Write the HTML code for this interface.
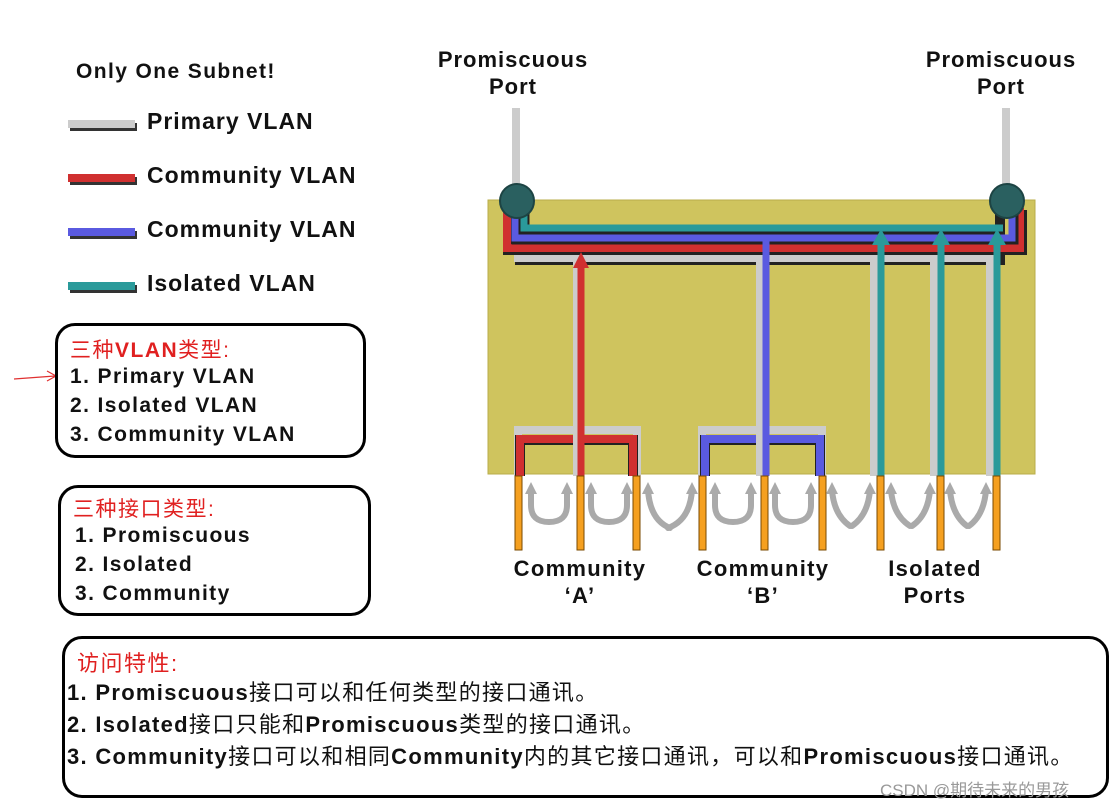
<!DOCTYPE html>
<html><head><meta charset="utf-8"><style>
body{margin:0;background:#fff;width:1120px;height:803px;overflow:hidden;font-family:"Liberation Sans","Noto Sans CJK SC",sans-serif;}
.t{position:absolute;font-weight:bold;color:#111;white-space:nowrap}
.box{position:absolute;border:3px solid #000;border-radius:20px;box-sizing:border-box}
</style></head><body>
<svg width="1120" height="803" style="position:absolute;left:0;top:0">
<g stroke-width="8">
<line x1="70" y1="127" x2="137" y2="127" stroke="#333"/><line x1="68" y1="124" x2="135" y2="124" stroke="#ccc"/>
<line x1="70" y1="181" x2="137" y2="181" stroke="#333"/><line x1="68" y1="178" x2="135" y2="178" stroke="#d03030"/>
<line x1="70" y1="235" x2="137" y2="235" stroke="#333"/><line x1="68" y1="232" x2="135" y2="232" stroke="#5a5ae0"/>
<line x1="70" y1="289" x2="137" y2="289" stroke="#333"/><line x1="68" y1="286" x2="135" y2="286" stroke="#2a9a9a"/>
</g>
<path d="M14 379 L55 376 M47 371 L56 376 L47 381" stroke="#e03030" stroke-width="1.2" fill="none"/>
<rect x="512" y="108" width="8" height="80" fill="#ccc"/><rect x="1002" y="108" width="8" height="80" fill="#ccc"/>
<rect x="488" y="200" width="547" height="274" fill="#cfc45e" stroke="#b8ad4a"/>
<g fill="none" stroke-linejoin="miter">
<path d="M520 195 V260 H1000 V195" stroke="#222" stroke-width="10"/>
<path d="M518 195 V258 H998" stroke="#ccc" stroke-width="8"/>
<path d="M508 210 V250 H1022 V210" stroke="#222" stroke-width="10"/>
<path d="M507 208 V248 H1020 V208" stroke="#d03030" stroke-width="8"/>
<path d="M516 210 V240 H1014 V210" stroke="#222" stroke-width="9"/>
<path d="M515 208 V238 H1012 V208" stroke="#5a5ae0" stroke-width="7"/>
<path d="M525 210 V230 H1004" stroke="#222" stroke-width="9"/>
<path d="M524 208 V228 H1003" stroke="#2a9a9a" stroke-width="7"/>
</g>
<circle cx="517" cy="201" r="17" fill="#2a6060" stroke="#1d4444" stroke-width="2"/>
<circle cx="1007" cy="201" r="17" fill="#2a6060" stroke="#1d4444" stroke-width="2"/>
<g fill="none">
<path d="M518 476 V430 H637 V476" stroke="#ccc" stroke-width="8"/>
<path d="M520 476 V440 H633 V476" stroke="#222" stroke-width="10"/>
<path d="M520 476 V439 H633 V476" stroke="#d03030" stroke-width="8"/>
<path d="M577 262 V476" stroke="#ccc" stroke-width="8"/>
<path d="M583 268 V476" stroke="#222" stroke-width="3"/>
<path d="M581 268 V476" stroke="#d03030" stroke-width="7"/>
<path d="M702 476 V430 H822 V476" stroke="#ccc" stroke-width="8"/>
<path d="M705 476 V440 H820 V476" stroke="#222" stroke-width="10"/>
<path d="M705 476 V439 H820 V476" stroke="#5a5ae0" stroke-width="8"/>
<path d="M760 262 V476" stroke="#ccc" stroke-width="8"/>
<path d="M768 240 V476" stroke="#222" stroke-width="3"/>
<path d="M766 240 V476" stroke="#5a5ae0" stroke-width="7"/>
<path d="M874 262 V476 M934 262 V476 M990 262 V476" stroke="#ccc" stroke-width="8"/>
<path d="M883 242 V476 M943 242 V476 M999 242 V476" stroke="#222" stroke-width="3"/>
<path d="M881 242 V476 M941 242 V476 M997 242 V476" stroke="#2a9a9a" stroke-width="7"/>
</g>
<polygon points="581,252 573,268 589,268" fill="#d03030"/>
<polygon points="881,229 872,245 890,245" fill="#2a9a9a"/>
<polygon points="941,229 932,245 950,245" fill="#2a9a9a"/>
<polygon points="997,229 988,245 1006,245" fill="#2a9a9a"/>
<g fill="#f5a020" stroke="#7a4a00" stroke-width="1">
<rect x="515" y="476" width="7" height="74"/><rect x="577" y="476" width="7" height="74"/><rect x="633" y="476" width="7" height="74"/>
<rect x="699" y="476" width="7" height="74"/><rect x="761" y="476" width="7" height="74"/><rect x="819" y="476" width="7" height="74"/>
<rect x="877" y="476" width="7" height="74"/><rect x="937" y="476" width="7" height="74"/><rect x="993" y="476" width="7" height="74"/>
</g>
<g fill="none" stroke="#aaa" stroke-width="6" stroke-linecap="round">
<path d="M531 490 V505 Q531 522 549 522 Q567 522 567 505 V490"/>
<path d="M591 490 V505 Q591 522 609 522 Q627 522 627 505 V490"/>
<path d="M715 490 V505 Q715 522 733 522 Q751 522 751 505 V490"/>
<path d="M775 490 V505 Q775 522 793 522 Q811 522 811 505 V490"/>
<path d="M648 490 Q650 520 670 528 M692 490 Q690 520 668 528"/>
<path d="M832 490 Q834 515 850 526 M870 490 Q868 515 852 526"/>
<path d="M891 490 Q893 515 910 526 M930 490 Q928 515 912 526"/>
<path d="M950 490 Q952 515 967 526 M986 490 Q984 515 969 526"/>
</g>
<g fill="#aaa">
<polygon points="531,482 525,494 537,494"/><polygon points="567,482 561,494 573,494"/>
<polygon points="591,482 585,494 597,494"/><polygon points="627,482 621,494 633,494"/>
<polygon points="715,482 709,494 721,494"/><polygon points="751,482 745,494 757,494"/>
<polygon points="775,482 769,494 781,494"/><polygon points="811,482 805,494 817,494"/>
<polygon points="648,482 642,494 654,494"/><polygon points="692,482 686,494 698,494"/>
<polygon points="832,482 826,494 838,494"/><polygon points="870,482 864,494 876,494"/>
<polygon points="891,482 885,494 897,494"/><polygon points="930,482 924,494 936,494"/>
<polygon points="950,482 944,494 956,494"/><polygon points="986,482 980,494 992,494"/>
</g>
</svg>
<div class="t" style="left:76px;top:60px;font-size:21px;letter-spacing:1.4px">Only One Subnet!</div>
<div class="t" style="left:147px;top:108px;font-size:23px;letter-spacing:1px">Primary VLAN</div>
<div class="t" style="left:147px;top:162px;font-size:23px;letter-spacing:1px">Community VLAN</div>
<div class="t" style="left:147px;top:216px;font-size:23px;letter-spacing:1px">Community VLAN</div>
<div class="t" style="left:147px;top:270px;font-size:23px;letter-spacing:1px">Isolated VLAN</div>
<div class="t" style="left:425px;top:46px;font-size:22px;text-align:center;width:176px;line-height:27px;letter-spacing:1px">Promiscuous<br>Port</div>
<div class="t" style="left:913px;top:46px;font-size:22px;text-align:center;width:176px;line-height:27px;letter-spacing:1px">Promiscuous<br>Port</div>
<div class="t" style="left:500px;top:555px;font-size:22px;text-align:center;width:160px;line-height:27px;letter-spacing:1.3px">Community<br>‘A’</div>
<div class="t" style="left:683px;top:555px;font-size:22px;text-align:center;width:160px;line-height:27px;letter-spacing:1.3px">Community<br>‘B’</div>
<div class="t" style="left:855px;top:555px;font-size:22px;text-align:center;width:160px;line-height:27px;letter-spacing:1.3px">Isolated<br>Ports</div>
<div class="box" style="left:55px;top:323px;width:311px;height:135px"></div>
<div class="t" style="left:70px;top:334px;font-size:21px;color:#e02020;font-weight:normal;letter-spacing:1.5px">三种<b>VLAN</b>类型:</div>
<div class="t" style="left:70px;top:362px;font-size:21px;line-height:29px;letter-spacing:1.4px">1. Primary VLAN<br>2. Isolated VLAN<br>3. Community VLAN</div>
<div class="box" style="left:58px;top:485px;width:313px;height:131px"></div>
<div class="t" style="left:73px;top:493px;font-size:21px;color:#e02020;font-weight:normal;letter-spacing:1.5px">三种接口类型:</div>
<div class="t" style="left:75px;top:521px;font-size:21px;line-height:29px;letter-spacing:1.4px">1. Promiscuous<br>2. Isolated<br>3. Community</div>
<div class="box" style="left:62px;top:636px;width:1047px;height:162px"></div>
<div class="t" style="left:77px;top:646px;font-size:22px;color:#e02020;font-weight:normal;letter-spacing:1.5px">访问特性:</div>
<div class="t" style="left:67px;top:677px;font-size:22px;line-height:32px;font-weight:normal;letter-spacing:1.3px">
<b>1. Promiscuous</b>接口可以和任何类型的接口通讯。<br>
<b>2. Isolated</b>接口只能和<b>Promiscuous</b>类型的接口通讯。<br>
<b>3. Community</b>接口可以和相同<b>Community</b>内的其它接口通讯，可以和<b>Promiscuous</b>接口通讯。</div>
<div class="t" style="left:880px;top:776px;font-size:17px;color:#999;font-weight:normal">CSDN @期待未来的男孩</div>
</body></html>
